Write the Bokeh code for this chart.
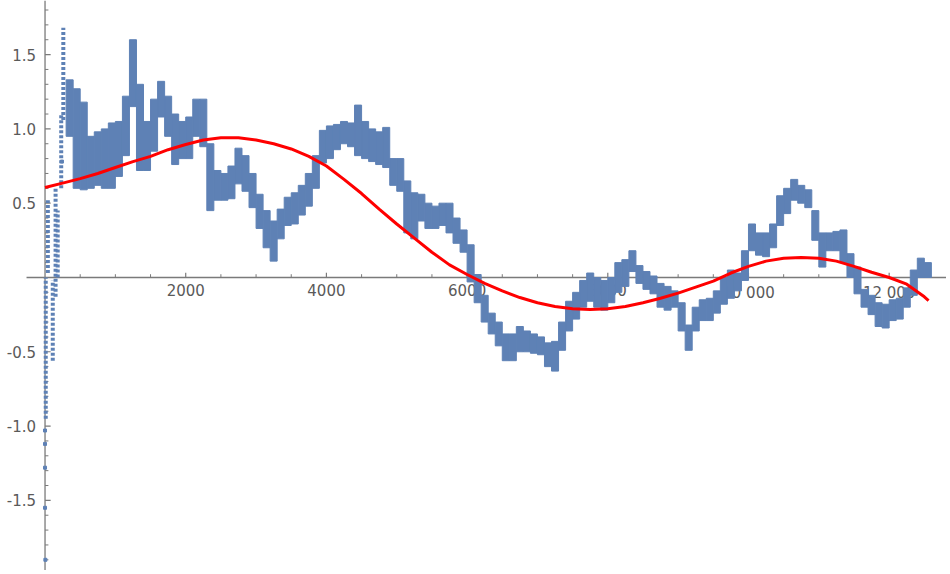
import numpy as np
from bokeh.plotting import figure
from bokeh.models import Range1d
from bokeh.embed import file_html
from bokeh.resources import INLINE
from bokeh.core.properties import value

# ---------------- data ----------------
# noisy series drawn as a band: for each 100-unit step, lowest and highest value
band_x = list(range(300, 12600, 100))
band_lo = [
    0.95, 0.60, 0.59, 0.60, 0.62, 0.60, 0.60, 0.68, 0.82, 1.15,
    0.72, 0.72, 0.85, 1.08, 0.95, 0.76, 0.80, 0.80, 0.95, 0.88,
    0.45, 0.52, 0.52, 0.53, 0.63, 0.58, 0.47, 0.33, 0.20, 0.11,
    0.26, 0.35, 0.36, 0.42, 0.48, 0.60, 0.77, 0.80, 0.86, 0.90,
    0.88, 0.82, 0.80, 0.78, 0.76, 0.74, 0.62, 0.58, 0.30, 0.26,
    0.38, 0.33, 0.33, 0.35, 0.30, 0.23, 0.17, -0.03, -0.17, -0.30,
    -0.38, -0.46, -0.56, -0.56, -0.50, -0.50, -0.51, -0.52, -0.60, -0.63,
    -0.49, -0.36, -0.28, -0.20, -0.16, -0.20, -0.22, -0.17, -0.10, -0.06,
    0.04, -0.04, -0.08, -0.11, -0.20, -0.22, -0.20, -0.36, -0.49, -0.36,
    -0.29, -0.29, -0.24, -0.18, -0.14, -0.09, -0.02, 0.18, 0.15, 0.14,
    0.20, 0.35, 0.43, 0.52, 0.50, 0.47, 0.25, 0.07, 0.18, 0.18,
    0.10, 0.00, -0.11, -0.20, -0.25, -0.33, -0.34, -0.29, -0.28, -0.20,
    -0.12, 0.00, 0.00,
]
band_hi = [
    1.33, 1.27, 1.18, 0.95, 0.98, 1.00, 1.04, 1.05, 1.22, 1.60,
    1.30, 1.05, 1.20, 1.32, 1.22, 1.10, 1.05, 1.08, 1.20, 1.20,
    0.90, 0.72, 0.70, 0.75, 0.87, 0.82, 0.70, 0.56, 0.45, 0.38,
    0.46, 0.54, 0.57, 0.62, 0.70, 0.82, 0.99, 1.02, 1.03, 1.05,
    1.04, 1.16, 1.05, 1.00, 0.98, 1.01, 0.80, 0.80, 0.65, 0.57,
    0.56, 0.50, 0.48, 0.50, 0.50, 0.40, 0.32, 0.22, 0.02, -0.12,
    -0.24, -0.30, -0.38, -0.38, -0.33, -0.36, -0.38, -0.40, -0.44, -0.43,
    -0.30, -0.16, -0.10, -0.02, 0.03, 0.00, -0.02, 0.00, 0.10, 0.12,
    0.18, 0.08, 0.04, 0.01, -0.04, -0.06, -0.09, -0.17, -0.32, -0.20,
    -0.15, -0.14, -0.09, 0.00, 0.05, 0.03, 0.18, 0.36, 0.30, 0.30,
    0.36, 0.55, 0.60, 0.66, 0.62, 0.59, 0.45, 0.30, 0.30, 0.31,
    0.32, 0.16, 0.07, -0.08, -0.12, -0.17, -0.18, -0.15, -0.14, -0.07,
    0.05, 0.13, 0.10,
]
assert len(band_x) == len(band_lo) == len(band_hi)

# scattered start of the series (dotted columns)
early_x = [10, 40, 110, 150, 180, 230, 260]
early_lo = [-0.95, 0.03, -0.56, -0.13, 0.00, 0.60, 1.06]
early_hi = [0.00, 0.52, -0.02, 0.60, 0.45, 1.10, 1.68]
sparse_x = [0, 0, 0, 0, 5, 240]
sparse_y = [-1.03, -1.12, -1.28, -1.55, -1.90, 0.78]

# smooth fitted curve
fit_x = [0, 250, 500, 750, 1000, 1250, 1500, 1750, 2000, 2250, 2500, 2750,
         3000, 3250, 3500, 3750, 4000, 4250, 4500, 4750, 5000, 5250, 5500,
         5750, 6000, 6250, 6500, 6750, 7000, 7250, 7500, 7750, 8000, 8250,
         8500, 8750, 9000, 9250, 9500, 9750, 10000, 10250, 10500, 10750,
         11000, 11250, 11500, 11750, 12000, 12250, 12500, 12560]
fit_y = [0.605, 0.635, 0.665, 0.70, 0.74, 0.78, 0.815, 0.86, 0.895, 0.925,
         0.94, 0.94, 0.925, 0.90, 0.865, 0.815, 0.75, 0.66, 0.565, 0.46,
         0.36, 0.265, 0.17, 0.085, 0.02, -0.04, -0.09, -0.135, -0.17,
         -0.195, -0.21, -0.215, -0.21, -0.195, -0.17, -0.14, -0.105, -0.065,
         -0.025, 0.03, 0.075, 0.11, 0.13, 0.135, 0.13, 0.11, 0.075, 0.035,
         0.0, -0.045, -0.13, -0.155]

# axis ticks and labels
x_major = [2000, 4000, 6000, 8000, 10000, 12000]
x_labels = ["2000", "4000", "6000", "8000", "10 000", "12 000"]
x_minor = [500, 1000, 1500, 2500, 3000, 3500, 4500, 5000, 5500, 6500, 7000,
           7500, 8500, 9000, 9500, 10500, 11000, 11500, 12500]
y_major = [-1.5, -1.0, -0.5, 0.5, 1.0, 1.5]
y_labels = ["-1.5", "-1.0", "-0.5", "0.5", "1.0", "1.5"]
y_minor = [v / 10 for v in range(-19, 19) if v != 0 and v % 5 != 0]

# ---------------- styling ----------------
BLUE = "#5e81b5"
RED = "#ff0000"
AX = "#7a7a7a"
TXT = "#5a5a5a"
XMIN, XMAX = -633, 12815
YMIN, YMAX = -1.972, 1.864
X_AXIS_START = -263

p = figure(width=946, height=570, output_backend="svg", toolbar_location=None,
           x_range=Range1d(XMIN, XMAX), y_range=Range1d(YMIN, YMAX),
           x_axis_location=None, y_axis_location=None, min_border=0)
p.outline_line_color = None
p.grid.visible = False
p.background_fill_color = "white"
p.border_fill_color = "white"

# axes lines
p.segment(x0=[X_AXIS_START], y0=[0], x1=[XMAX], y1=[0], line_color=AX, line_width=1.3)
p.segment(x0=[0], y0=[YMIN], x1=[0], y1=[YMAX], line_color=AX, line_width=1.3)

# ticks
xt_len_major, xt_len_minor = 0.032, 0.022
p.segment(x0=x_major, y0=[0] * len(x_major), x1=x_major,
          y1=[xt_len_major] * len(x_major), line_color=AX, line_width=1.2)
p.segment(x0=x_minor, y0=[0] * len(x_minor), x1=x_minor,
          y1=[xt_len_minor] * len(x_minor), line_color=AX, line_width=1.0)
yt_len_major, yt_len_minor = 80, 48
p.segment(x0=[0] * len(y_major), y0=y_major, x1=[yt_len_major] * len(y_major),
          y1=y_major, line_color=AX, line_width=1.2)
p.segment(x0=[0] * len(y_minor), y0=y_minor, x1=[yt_len_minor] * len(y_minor),
          y1=y_minor, line_color=AX, line_width=1.0)

# tick labels
p.text(x=x_major, y=[0] * len(x_major), text=x_labels, text_align="center",
       text_baseline="top", y_offset=7, text_color=TXT,
       text_font=value("DejaVu Sans"), text_font_size="15px")
p.text(x=[0] * len(y_major), y=y_major, text=y_labels, text_align="right",
       text_baseline="middle", x_offset=-9, text_color=TXT,
       text_font=value("DejaVu Sans"), text_font_size="15px")

# data band
bx = np.array(band_x, dtype=float)
p.quad(left=bx, right=bx + 100, bottom=band_lo, top=band_hi,
       fill_color=BLUE, line_color=BLUE, line_width=1)

# scattered start
p.segment(x0=early_x, y0=early_lo, x1=early_x, y1=early_hi,
          line_color=BLUE, line_width=4, line_dash="3 2")
p.scatter(x=sparse_x, y=sparse_y, marker="square", size=3,
          fill_color=BLUE, line_color=BLUE)

# fitted curve
p.line(fit_x, fit_y, line_color=RED, line_width=3)

open("out.html", "w").write(file_html(p, INLINE))
